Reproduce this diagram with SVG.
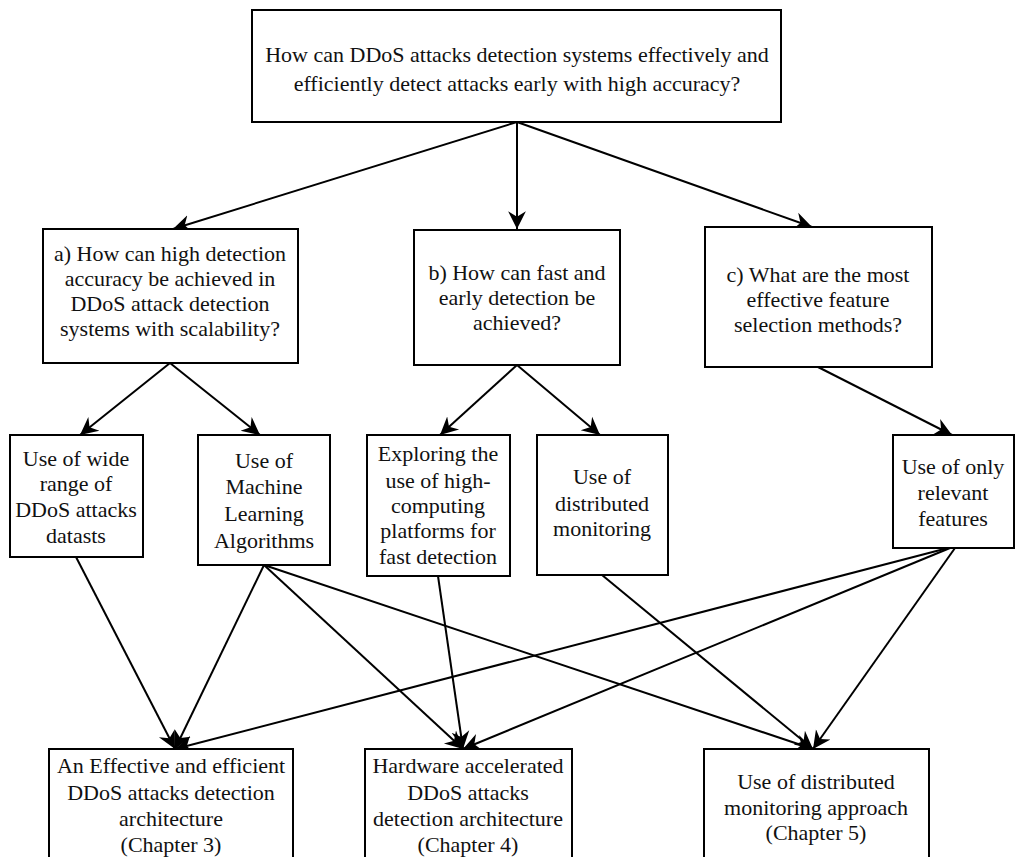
<svg xmlns="http://www.w3.org/2000/svg" width="1016" height="857" viewBox="0 0 1016 857">
  <style>
    .box { fill: #ffffff; stroke: #000000; stroke-width: 2; }
    .lbl { font-family: 'Liberation Serif', 'Times New Roman', Times, 'DejaVu Serif', serif; font-size: 22px; fill: #111111; text-anchor: middle; }
    .edge { stroke: #000000; stroke-width: 2; fill: none; marker-end: url(#head); }
  </style>
  <defs>
    <marker id="head" markerUnits="userSpaceOnUse" markerWidth="20" markerHeight="20" viewBox="-16 -9 18 18" refX="0" refY="0" orient="auto">
      <path d="M0,0 L-16,-8 L-11,0 L-16,8 Z" fill="#000000"/>
    </marker>
  </defs>

  <rect width="1016" height="857" fill="#ffffff"/>

  <!-- connectors -->
  <g id="connectors">
    <line class="edge" x1="517" y1="122" x2="173" y2="229"/>
    <line class="edge" x1="517" y1="122" x2="517" y2="229"/>
    <line class="edge" x1="517" y1="122" x2="812" y2="227"/>
    <line class="edge" x1="170" y1="363" x2="80" y2="435"/>
    <line class="edge" x1="170" y1="363" x2="260" y2="435"/>
    <line class="edge" x1="517" y1="365" x2="440" y2="435"/>
    <line class="edge" x1="517" y1="365" x2="600" y2="435"/>
    <line class="edge" x1="818" y1="367" x2="952" y2="435"/>
    <line class="edge" x1="76" y1="557" x2="175" y2="749"/>
    <line class="edge" x1="264" y1="565" x2="175" y2="749"/>
    <line class="edge" x1="264" y1="565" x2="463" y2="749"/>
    <line class="edge" x1="264" y1="565" x2="813" y2="749"/>
    <line class="edge" x1="438" y1="576" x2="463" y2="749"/>
    <line class="edge" x1="602" y1="575" x2="813" y2="749"/>
    <line class="edge" x1="948" y1="548" x2="175" y2="749"/>
    <line class="edge" x1="950" y1="548" x2="463" y2="749"/>
    <line class="edge" x1="955" y1="548" x2="813" y2="749"/>
  </g>

  <g id="main-question">
    <rect class="box" x="252" y="10" width="529" height="112"/>
    <text class="lbl" x="517" y="62">How can DDoS attacks detection systems effectively and</text>
    <text class="lbl" x="517" y="91">efficiently detect attacks early with high accuracy?</text>
  </g>

  <g id="question-a">
    <rect class="box" x="43" y="229" width="255" height="134"/>
    <text class="lbl" x="170" y="261">a) How can high detection</text>
    <text class="lbl" x="170" y="286">accuracy be achieved in</text>
    <text class="lbl" x="170" y="311">DDoS attack detection</text>
    <text class="lbl" x="170" y="336">systems with scalability?</text>
  </g>

  <g id="question-b">
    <rect class="box" x="414" y="230" width="206" height="135"/>
    <text class="lbl" x="517" y="280">b) How can fast and</text>
    <text class="lbl" x="517" y="305">early detection be</text>
    <text class="lbl" x="517" y="330">achieved?</text>
  </g>

  <g id="question-c">
    <rect class="box" x="705" y="227" width="227" height="140"/>
    <text class="lbl" x="818" y="282">c) What are the most</text>
    <text class="lbl" x="818" y="307">effective feature</text>
    <text class="lbl" x="818" y="332">selection methods?</text>
  </g>

  <g id="datasets">
    <rect class="box" x="10" y="435" width="133" height="122"/>
    <text class="lbl" x="76" y="466">Use of wide</text>
    <text class="lbl" x="76" y="491">range of</text>
    <text class="lbl" x="76" y="517">DDoS attacks</text>
    <text class="lbl" x="76" y="543">datasts</text>
  </g>

  <g id="ml-algorithms">
    <rect class="box" x="198" y="435" width="132" height="130"/>
    <text class="lbl" x="264" y="468">Use of</text>
    <text class="lbl" x="264" y="494">Machine</text>
    <text class="lbl" x="264" y="521">Learning</text>
    <text class="lbl" x="264" y="548">Algorithms</text>
  </g>

  <g id="high-computing">
    <rect class="box" x="367" y="435" width="143" height="141"/>
    <text class="lbl" x="438" y="461">Exploring the</text>
    <text class="lbl" x="438" y="488">use of high-</text>
    <text class="lbl" x="438" y="513">computing</text>
    <text class="lbl" x="438" y="538">platforms for</text>
    <text class="lbl" x="438" y="564">fast detection</text>
  </g>

  <g id="distributed-monitoring">
    <rect class="box" x="537" y="435" width="131" height="140"/>
    <text class="lbl" x="602" y="484">Use of</text>
    <text class="lbl" x="602" y="511">distributed</text>
    <text class="lbl" x="602" y="536">monitoring</text>
  </g>

  <g id="relevant-features">
    <rect class="box" x="893" y="435" width="121" height="113"/>
    <text class="lbl" x="953" y="474">Use of only</text>
    <text class="lbl" x="953" y="500">relevant</text>
    <text class="lbl" x="953" y="526">features</text>
  </g>

  <g id="chapter-3">
    <rect class="box" x="49" y="749" width="244" height="120"/>
    <text class="lbl" x="171" y="773">An Effective and efficient</text>
    <text class="lbl" x="171" y="800">DDoS attacks detection</text>
    <text class="lbl" x="171" y="826">architecture</text>
    <text class="lbl" x="171" y="852">(Chapter 3)</text>
  </g>

  <g id="chapter-4">
    <rect class="box" x="365" y="749" width="207" height="120"/>
    <text class="lbl" x="468" y="773">Hardware accelerated</text>
    <text class="lbl" x="468" y="800">DDoS attacks</text>
    <text class="lbl" x="468" y="826">detection architecture</text>
    <text class="lbl" x="468" y="852">(Chapter 4)</text>
  </g>

  <g id="chapter-5">
    <rect class="box" x="704" y="749" width="225" height="120"/>
    <text class="lbl" x="816" y="789">Use of distributed</text>
    <text class="lbl" x="816" y="815">monitoring approach</text>
    <text class="lbl" x="816" y="840">(Chapter 5)</text>
  </g>
</svg>
